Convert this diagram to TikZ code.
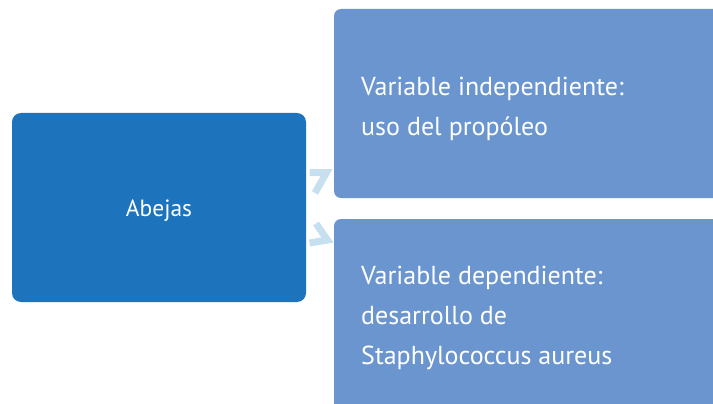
\documentclass[tikz,border=0pt]{standalone}
\usepackage{fontspec}
\setmainfont{PT Sans}
\definecolor{leftblue}{RGB}{30,115,189}
\definecolor{rightblue}{RGB}{107,149,206}
\definecolor{arrowblue}{RGB}{198,224,240}
\tikzset{
  leftbox/.style={fill=leftblue, draw=none, rounded corners=9pt, inner sep=0pt},
  rightbox/.style={fill=rightblue, draw=none, rounded corners=7pt, inner sep=0pt},
  boxtext/.style={text=white, font=\fontsize{26}{40}\selectfont, align=left, anchor=west, inner sep=0pt},
  chevron/.style={draw=arrowblue, line width=7pt, miter limit=10}
}
\begin{document}
\begin{tikzpicture}[x=1pt,y=-1pt]
\useasboundingbox (0,0) rectangle (713,404);
\clip (0,0) rectangle (713,404);
\node[leftbox, minimum width=294pt, minimum height=189pt] (abejas) at (159,207.5) {};
\node[text=white, font=\fontsize{23.5}{28}\selectfont, inner sep=0pt] (abejastext) at (159,210.5) {Abejas};
\node[rightbox, minimum width=406pt, minimum height=189pt] (indep) at (537,103.5) {};
\node[rightbox, minimum width=406pt, minimum height=221pt] (dep) at (537,329.5) {};
\node[boxtext] (indeptext) at (361,109) {Variable independiente:\\uso del propóleo};
\node[boxtext] (deptext) at (361,318) {Variable dependiente:\\desarrollo de\\Staphylococcus aureus};
\coordinate (a1) at (309.5,172.5);
\coordinate (a2) at (326.5,172.5);
\coordinate (a3) at (315,193);
\coordinate (b1) at (316,223.5);
\coordinate (b2) at (327.5,240);
\coordinate (b3) at (309.5,243);
\draw[chevron] (a1) -- (a2) -- (a3);
\draw[chevron] (b1) -- (b2) -- (b3);
\end{tikzpicture}
\end{document}
